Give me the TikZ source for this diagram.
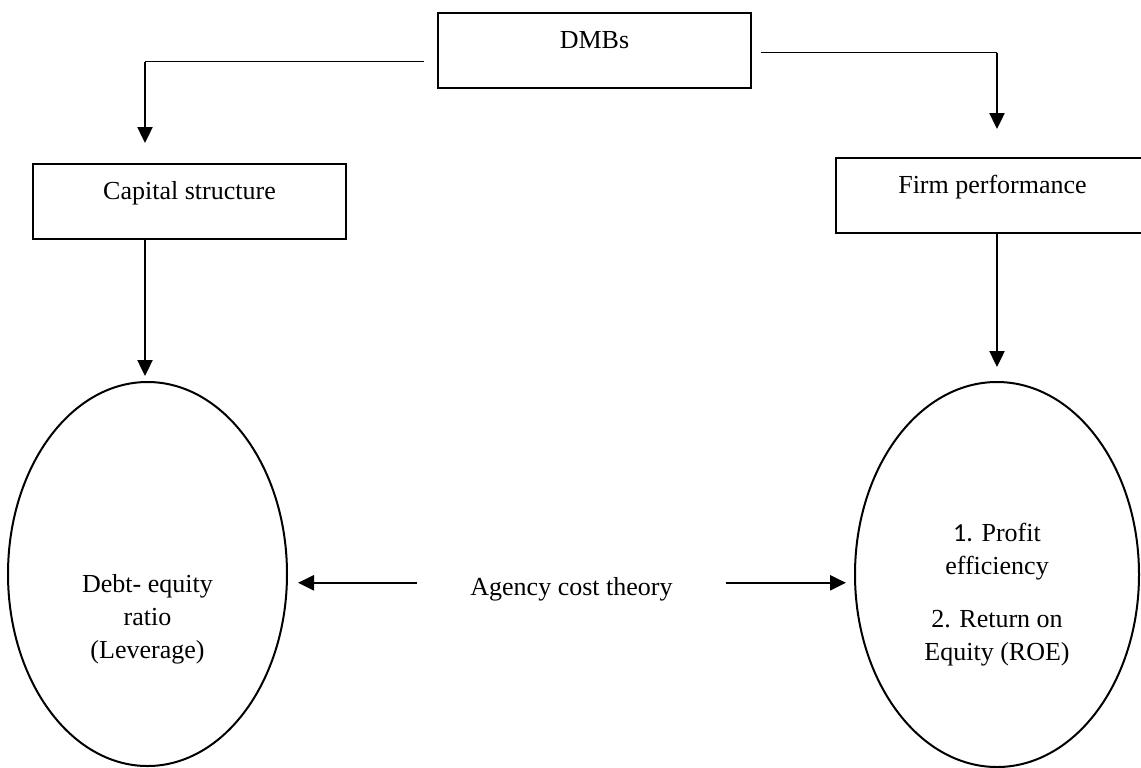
\documentclass[tikz,border=0pt]{standalone}
\usepackage{fontspec}
\setmainfont{Liberation Serif}
\newfontfamily\numfont{Carlito}
\usetikzlibrary{shapes.geometric, arrows.meta}

\begin{document}
\begin{tikzpicture}[x=0.5pt, y=-0.5pt,
                  font=\fontsize{13}{16.5}\selectfont,
                  box/.style={rectangle,draw,line width=1pt,inner xsep=0pt,inner ysep=0pt,
                    minimum width=156.5pt,text height=17.5pt,text depth=20pt,anchor=north},
                  oval/.style={ellipse,draw,line width=1pt,inner sep=0pt},
                  txt/.style={align=center,inner sep=0pt},
                  link/.style={line width=0.6pt},
                  post/.style={->,>={Triangle[length=8pt,width=7.5pt]},line width=1.2pt}
                  ]
                  \useasboundingbox (0,0) rectangle (1141,767);
                  \node[box] (dmbs) at (594.5,12)  {DMBs};
                  \node[box] (cap)  at (189.5,163) {Capital structure};
                  \node[box] (firm) at (992.5,157) {Firm performance};
                  \node[oval,minimum width=139.5pt,minimum height=192pt] (lev) at (147.5,574) {};
                  \node[oval,minimum width=142pt,minimum height=192.5pt] (roe) at (997,574.5) {};
                  \node[txt,anchor=north] (levtxt) at (lev.center) {Debt- equity\\ratio\\(Leverage)};
                  \node[txt,anchor=north] (roetxt) at ([yshift=25.75pt]roe.center)
                    {{\numfont 1.} Profit\\efficiency\\[10pt]2. Return on\\Equity (ROE)};
                  \node[anchor=base] (agency) at (571.5,595) {Agency cost theory};
                  % DMBs to both sides
                  \coordinate (lcol) at ([xshift=-1.25pt]lev.north);
                  \coordinate (lstart) at ([xshift=-6.5pt,yshift=-5.5pt]dmbs.west);
                  \coordinate (lturn) at (lstart -| lcol);
                  \coordinate (rstart) at ([xshift=4.5pt,yshift=-1pt]dmbs.east);
                  \coordinate (rturn) at (rstart -| roe.north);
                  \draw[link] (lstart) -- (lturn);
                  \draw[post, shorten >=10pt] (lturn) -- (lturn |- cap.north);
                  \draw[link] (rstart) -- (rturn);
                  \draw[post, shorten >=14pt] (rturn) -- (rturn |- firm.north);
                  % boxes to ovals
                  \draw[post, shorten >=2.5pt] (lcol |- cap.south) -- (lcol);
                  \draw[post, shorten >=7pt] (roe.north |- firm.south) -- (roe.north);
                  % agency cost theory
                  \coordinate (aleft) at ([yshift=3pt]agency.west);
                  \coordinate (aright) at ([yshift=3pt]agency.east);
                  \draw[post, shorten <=23pt, shorten >=5pt] (aleft) -- (aleft -| lev.east);
                  \draw[post, shorten <=23pt, shorten >=4pt] (aright) -- (aright -| roe.west);
                \end{tikzpicture}
\end{document}
